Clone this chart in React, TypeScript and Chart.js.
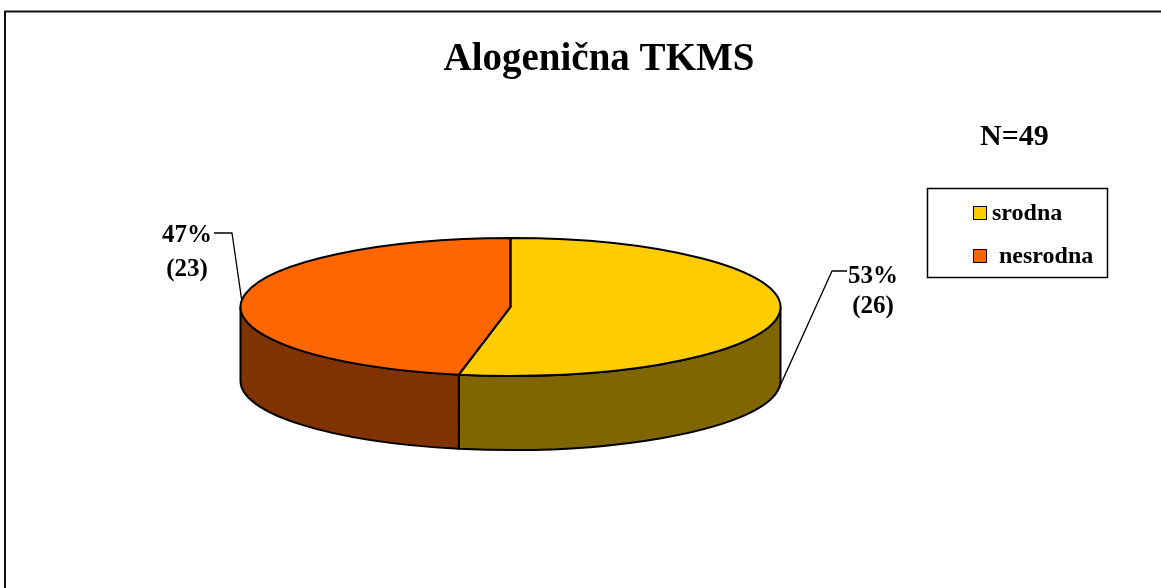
import React, { useEffect, useRef } from "react";
import { Chart, registerables } from "chart.js";

Chart.register(...registerables);

// ---- data ----
const TITLE = "Alogenična TKMS";
const categories = ["srodna", "nesrodna"];
const counts = [26, 23];
const topColors = ["#FFCC00", "#FF6600"];
const sideColors = ["#806600", "#803300"];

const SERIF = "'Liberation Serif', 'Times New Roman', Times, serif";

// page geometry of the tilted pie
const GEO = { cx: 510.5, cy: 307, rx: 270, ry: 69, depth: 74 };

const labelPlacement = [
  { elbow: [832, 271], lineEnd: 847, textX: 873, baselines: [283, 313] },
  { elbow: [232, 233], lineEnd: 214, textX: 187, baselines: [242, 276] },
];

const legendBox = { x: 927.5, y: 188.5, w: 180, h: 89 };
const legendItems = [
  { sq: [973, 206], textX: 992, baseline: 220 },
  { sq: [973, 249], textX: 999, baseline: 263 },
];

function wallPath(ctx: CanvasRenderingContext2D, s: number, e: number) {
  const { cx, cy, rx, ry, depth } = GEO;
  ctx.beginPath();
  ctx.ellipse(cx, cy, rx, ry, 0, s, e, false);
  ctx.lineTo(cx + rx * Math.cos(e), cy + ry * Math.sin(e) + depth);
  ctx.ellipse(cx, cy + depth, rx, ry, 0, e, s, true);
  ctx.closePath();
}

const OUTLINE = 2;

const pie3d = {
  id: "pie3d",
  beforeDatasetsDraw(chart: any) {
    const ctx: CanvasRenderingContext2D = chart.ctx;
    const els = chart.getDatasetMeta(0).data;
    if (!els.length) return;
    const p0 = els[0].getProps(["x", "y", "outerRadius"], true);
    ctx.save();
    ctx.lineWidth = OUTLINE;
    ctx.strokeStyle = "#000";
    ctx.lineJoin = "round";
    els.forEach((el: any, i: number) => {
      const { startAngle, endAngle } = el.getProps(["startAngle", "endAngle"], true);
      for (const base of [-2 * Math.PI, 0, 2 * Math.PI]) {
        const s = Math.max(startAngle, base);
        const e = Math.min(endAngle, base + Math.PI);
        if (e > s) {
          wallPath(ctx, s, e);
          ctx.fillStyle = sideColors[i];
          ctx.fill();
          ctx.stroke();
        }
      }
    });
    ctx.restore();
    ctx.save();
    ctx.translate(GEO.cx, GEO.cy);
    ctx.scale(GEO.rx / p0.outerRadius, GEO.ry / p0.outerRadius);
    ctx.translate(-p0.x, -p0.y);
  },
  afterDatasetsDraw(chart: any) {
    const ctx: CanvasRenderingContext2D = chart.ctx;
    ctx.restore();
    const els = chart.getDatasetMeta(0).data;
    const values: number[] = chart.data.datasets[0].data;
    const total = values.reduce((a, b) => a + b, 0);
    ctx.save();
    ctx.lineWidth = OUTLINE;
    ctx.strokeStyle = "#000";
    ctx.lineJoin = "round";
    els.forEach((el: any) => {
      const { startAngle, endAngle } = el.getProps(["startAngle", "endAngle"], true);
      ctx.beginPath();
      ctx.moveTo(GEO.cx, GEO.cy);
      ctx.ellipse(GEO.cx, GEO.cy, GEO.rx, GEO.ry, 0, startAngle, endAngle, false);
      ctx.closePath();
      ctx.stroke();
    });
    // labels with leader lines
    ctx.lineWidth = 1.3;
    ctx.fillStyle = "#000";
    ctx.font = `bold 25px ${SERIF}`;
    ctx.textAlign = "center";
    ctx.textBaseline = "alphabetic";
    els.forEach((el: any, i: number) => {
      const { startAngle, endAngle } = el.getProps(["startAngle", "endAngle"], true);
      const mid = (startAngle + endAngle) / 2;
      const ax = GEO.cx + GEO.rx * Math.cos(mid);
      let ay = GEO.cy + GEO.ry * Math.sin(mid);
      if (Math.sin(mid) > 0) ay += GEO.depth;
      const L = labelPlacement[i];
      ctx.beginPath();
      ctx.moveTo(ax, ay);
      ctx.lineTo(L.elbow[0], L.elbow[1]);
      ctx.lineTo(L.lineEnd, L.elbow[1]);
      ctx.stroke();
      ctx.fillText(`${Math.round((values[i] / total) * 100)}%`, L.textX, L.baselines[0]);
      ctx.fillText(`(${values[i]})`, L.textX, L.baselines[1]);
    });
    ctx.restore();
  },
  afterDraw(chart: any) {
    const ctx: CanvasRenderingContext2D = chart.ctx;
    const values: number[] = chart.data.datasets[0].data;
    const total = values.reduce((a, b) => a + b, 0);
    ctx.save();
    // outer frame
    ctx.strokeStyle = "#111";
    ctx.lineWidth = 2;
    ctx.strokeRect(5, 11.5, 1400, 800);
    // N label
    ctx.fillStyle = "#000";
    ctx.font = `bold 30px ${SERIF}`;
    ctx.textAlign = "left";
    ctx.textBaseline = "alphabetic";
    ctx.fillText(`N=${total}`, 980, 145);
    // legend
    ctx.lineWidth = 1.5;
    ctx.strokeStyle = "#000";
    ctx.strokeRect(legendBox.x, legendBox.y, legendBox.w, legendBox.h);
    ctx.font = `bold 24px ${SERIF}`;
    const bg = chart.data.datasets[0].backgroundColor;
    chart.data.labels.forEach((lab: string, i: number) => {
      const it = legendItems[i];
      ctx.fillStyle = bg[i];
      ctx.fillRect(it.sq[0], it.sq[1], 14, 14);
      ctx.lineWidth = 1;
      ctx.strokeRect(it.sq[0] + 0.5, it.sq[1] + 0.5, 13, 13);
      ctx.fillStyle = "#000";
      ctx.fillText(lab, it.textX, it.baseline);
    });
    ctx.restore();
  },
};

export default function App() {
  const ref = useRef<HTMLCanvasElement>(null);
  useEffect(() => {
    const chart = new Chart(ref.current as HTMLCanvasElement, {
      type: "pie",
      data: {
        labels: categories,
        datasets: [
          {
            data: counts,
            backgroundColor: topColors,
            borderWidth: 0,
            clip: false as any,
          },
        ],
      },
      options: {
        responsive: false,
        animation: false,
        events: [],
        layout: { padding: { left: 37 } },
        plugins: {
          legend: { display: false },
          tooltip: { enabled: false },
          title: {
            display: true,
            text: TITLE,
            color: "#000",
            font: { family: SERIF, size: 39, weight: "bold" },
            padding: { top: 37, bottom: 10 },
          },
        },
      },
      plugins: [pie3d],
    });
    return () => chart.destroy();
  }, []);
  return (
    <div
      style={{
        position: "fixed",
        left: 0,
        top: 0,
        width: 1161,
        height: 588,
        background: "#fff",
      }}
    >
      <canvas ref={ref} width={1161} height={588} style={{ display: "block" }} />
    </div>
  );
}
